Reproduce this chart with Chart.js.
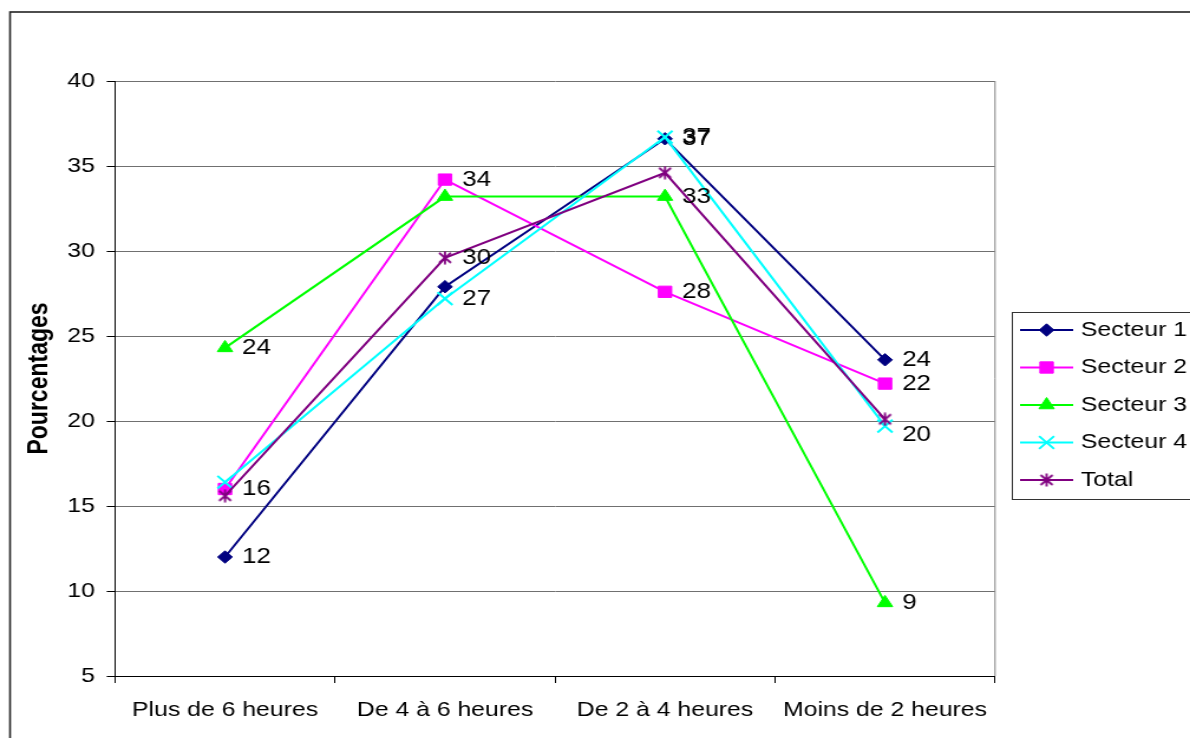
<!DOCTYPE html>
<html>
<head>
<meta charset="utf-8">
<script src="https://cdn.jsdelivr.net/npm/chart.js@4.4.0/dist/chart.umd.min.js"></script>
<style>
html, body { margin: 0; padding: 0; background: #fff; overflow: hidden; }
/* the reference picture is stretched sideways, so the chart is too */
#wrap { width: 1008px; height: 738px; transform: scaleX(1.1806); transform-origin: 0 0; }
</style>
</head>
<body>
<div id="wrap"><canvas id="chart"></canvas></div>
<script>
var categories = ["Plus de 6 heures", "De 4 à 6 heures", "De 2 à 4 heures", "Moins de 2 heures"];
var seriesNames = ["Secteur 1", "Secteur 2", "Secteur 3", "Secteur 4", "Total"];
var secteur1 = [12.0, 27.9, 36.6, 23.6];
var secteur2 = [16.0, 34.2, 27.6, 22.2];
var secteur3 = [24.3, 33.2, 33.2, 9.3];
var secteur4 = [16.4, 27.2, 36.7, 19.7];
var total = [15.6, 29.6, 34.6, 20.1];
var yTicks = [5, 10, 15, 20, 25, 30, 35, 40];
// [series, category] of the points that carry a value label
var labelledPoints = [[0, 0], [0, 2], [0, 3], [1, 0], [1, 1], [1, 2], [1, 3], [2, 0], [2, 2], [2, 3], [3, 1], [3, 2], [3, 3], [4, 1]];

var FONT = "'Liberation Sans', Arial, sans-serif";
Chart.defaults.font.family = FONT;
Chart.defaults.color = "#000";

// excel-style asterisk marker: an X plus a vertical stroke
function asterisk(color) {
    var c = document.createElement("canvas");
    c.width = 14; c.height = 14;
    var g = c.getContext("2d");
    g.strokeStyle = color; g.lineWidth = 1.8;
    g.beginPath();
    g.moveTo(2, 2); g.lineTo(12, 12);
    g.moveTo(12, 2); g.lineTo(2, 12);
    g.moveTo(7, 0.5); g.lineTo(7, 13.5);
    g.stroke();
    return c;
}

var styles = [
    { color: "#000080", pointStyle: "rectRot", radius: 6.2, bw: 1, order: 5 },
    { color: "#FF00FF", pointStyle: "rect", radius: 8, bw: 1, order: 4 },
    { color: "#00FF00", pointStyle: "triangle", radius: 7.5, bw: 1, order: 3 },
    { color: "#00FFFF", pointStyle: "crossRot", radius: 9, bw: 2, order: 2 },
    { color: "#800080", pointStyle: asterisk("#800080"), radius: 7, bw: 2, order: 1 }
];
var values = [secteur1, secteur2, secteur3, secteur4, total];

var datasets = values.map(function (v, i) {
    var s = styles[i];
    return {
        label: seriesNames[i], data: v, order: s.order,
        borderColor: s.color, backgroundColor: s.color, borderWidth: 2, tension: 0,
        pointStyle: s.pointStyle, pointRadius: s.radius, pointBorderWidth: s.bw,
        pointBackgroundColor: s.color, pointBorderColor: s.color, pointHoverRadius: s.radius
    };
});

function drawMarker(ctx, s, x, y) {
    if (Chart.helpers && Chart.helpers.drawPoint) {
        ctx.fillStyle = s.color; ctx.strokeStyle = s.color; ctx.lineWidth = s.bw;
        Chart.helpers.drawPoint(ctx, { pointStyle: s.pointStyle, radius: s.radius, rotation: 0, borderWidth: s.bw }, x, y);
    } else {
        ctx.fillStyle = s.color;
        ctx.beginPath(); ctx.arc(x, y, 5, 0, Math.PI * 2); ctx.fill();
    }
}

var framePlugin = {
    id: "frame",
    beforeDraw: function (chart) {
        var ctx = chart.ctx;
        ctx.save();
        ctx.fillStyle = "#fff";
        ctx.fillRect(0, 0, chart.width, chart.height);
        ctx.strokeStyle = "#222";
        ctx.lineWidth = 1.6;
        ctx.strokeRect(8.5, 12, 1200, 900);
        ctx.restore();
    },
    beforeDatasetsDraw: function (chart) {
        var a = chart.chartArea, ctx = chart.ctx;
        ctx.save();
        ctx.strokeStyle = "#808080";
        ctx.lineWidth = 1;
        ctx.beginPath();
        ctx.moveTo(a.right, a.top); ctx.lineTo(a.right, a.bottom);
        ctx.stroke();
        ctx.restore();
    }
};

var labelNudge = { "3:3": 9 };
var valueLabelPlugin = {
    id: "valueLabels",
    afterDatasetsDraw: function (chart) {
        var ctx = chart.ctx;
        ctx.save();
        ctx.font = "22px " + FONT;
        ctx.fillStyle = "#000";
        ctx.textAlign = "left";
        ctx.textBaseline = "middle";
        labelledPoints.forEach(function (p) {
            var pt = chart.getDatasetMeta(p[0]).data[p[1]];
            var dy = labelNudge[p[0] + ":" + p[1]] || 0;
            ctx.fillText(String(Math.round(values[p[0]][p[1]])), pt.x + 14.5, pt.y + dy);
        });
        ctx.restore();
    }
};

var legendPlugin = {
    id: "sideLegend",
    afterDraw: function (chart) {
        var ctx = chart.ctx;
        ctx.save();
        ctx.strokeStyle = "#333";
        ctx.lineWidth = 1;
        ctx.strokeRect(857.5, 312.5, 300, 187);
        ctx.font = "21px " + FONT;
        ctx.textAlign = "left";
        ctx.textBaseline = "middle";
        seriesNames.forEach(function (name, i) {
            var y = 330 + i * 37.5, s = styles[i];
            ctx.strokeStyle = s.color;
            ctx.lineWidth = 2;
            ctx.beginPath(); ctx.moveTo(864, y); ctx.lineTo(909, y); ctx.stroke();
            drawMarker(ctx, s, 886.5, y);
            ctx.fillStyle = "#000";
            ctx.fillText(name, 915.5, y);
        });
        ctx.restore();
    }
};

new Chart(document.getElementById("chart"), {
    type: "line",
    data: { labels: categories, datasets: datasets },
    options: {
        responsive: true, maintainAspectRatio: false, animation: false,
        layout: { padding: { left: 0, top: 81, right: 165.2, bottom: 0 } },
        plugins: { legend: { display: false }, tooltip: { enabled: false } },
        scales: {
            x: {
                type: "category", offset: true,
                grid: { offset: true, drawOnChartArea: false, tickLength: 7, tickColor: "#000" },
                border: { color: "#000", width: 1 },
                ticks: { font: { size: 21 }, color: "#000", padding: 15, maxRotation: 0, autoSkip: false },
                afterFit: function (s) { s.height = 62; }
            },
            y: {
                min: yTicks[0], max: yTicks[yTicks.length - 1],
                grid: { color: "#707070", tickColor: "#000", tickLength: 7, lineWidth: 1 },
                border: { color: "#000", width: 1 },
                ticks: { stepSize: yTicks[1] - yTicks[0], font: { size: 21 }, color: "#000", padding: 10 },
                title: { display: true, text: "Pourcentages", font: { size: 23, weight: "bold" }, color: "#000", padding: { top: 20, bottom: 0 } },
                afterFit: function (s) { s.width = 97.4; }
            }
        }
    },
    plugins: [framePlugin, valueLabelPlugin, legendPlugin]
});
</script>
</body>
</html>
